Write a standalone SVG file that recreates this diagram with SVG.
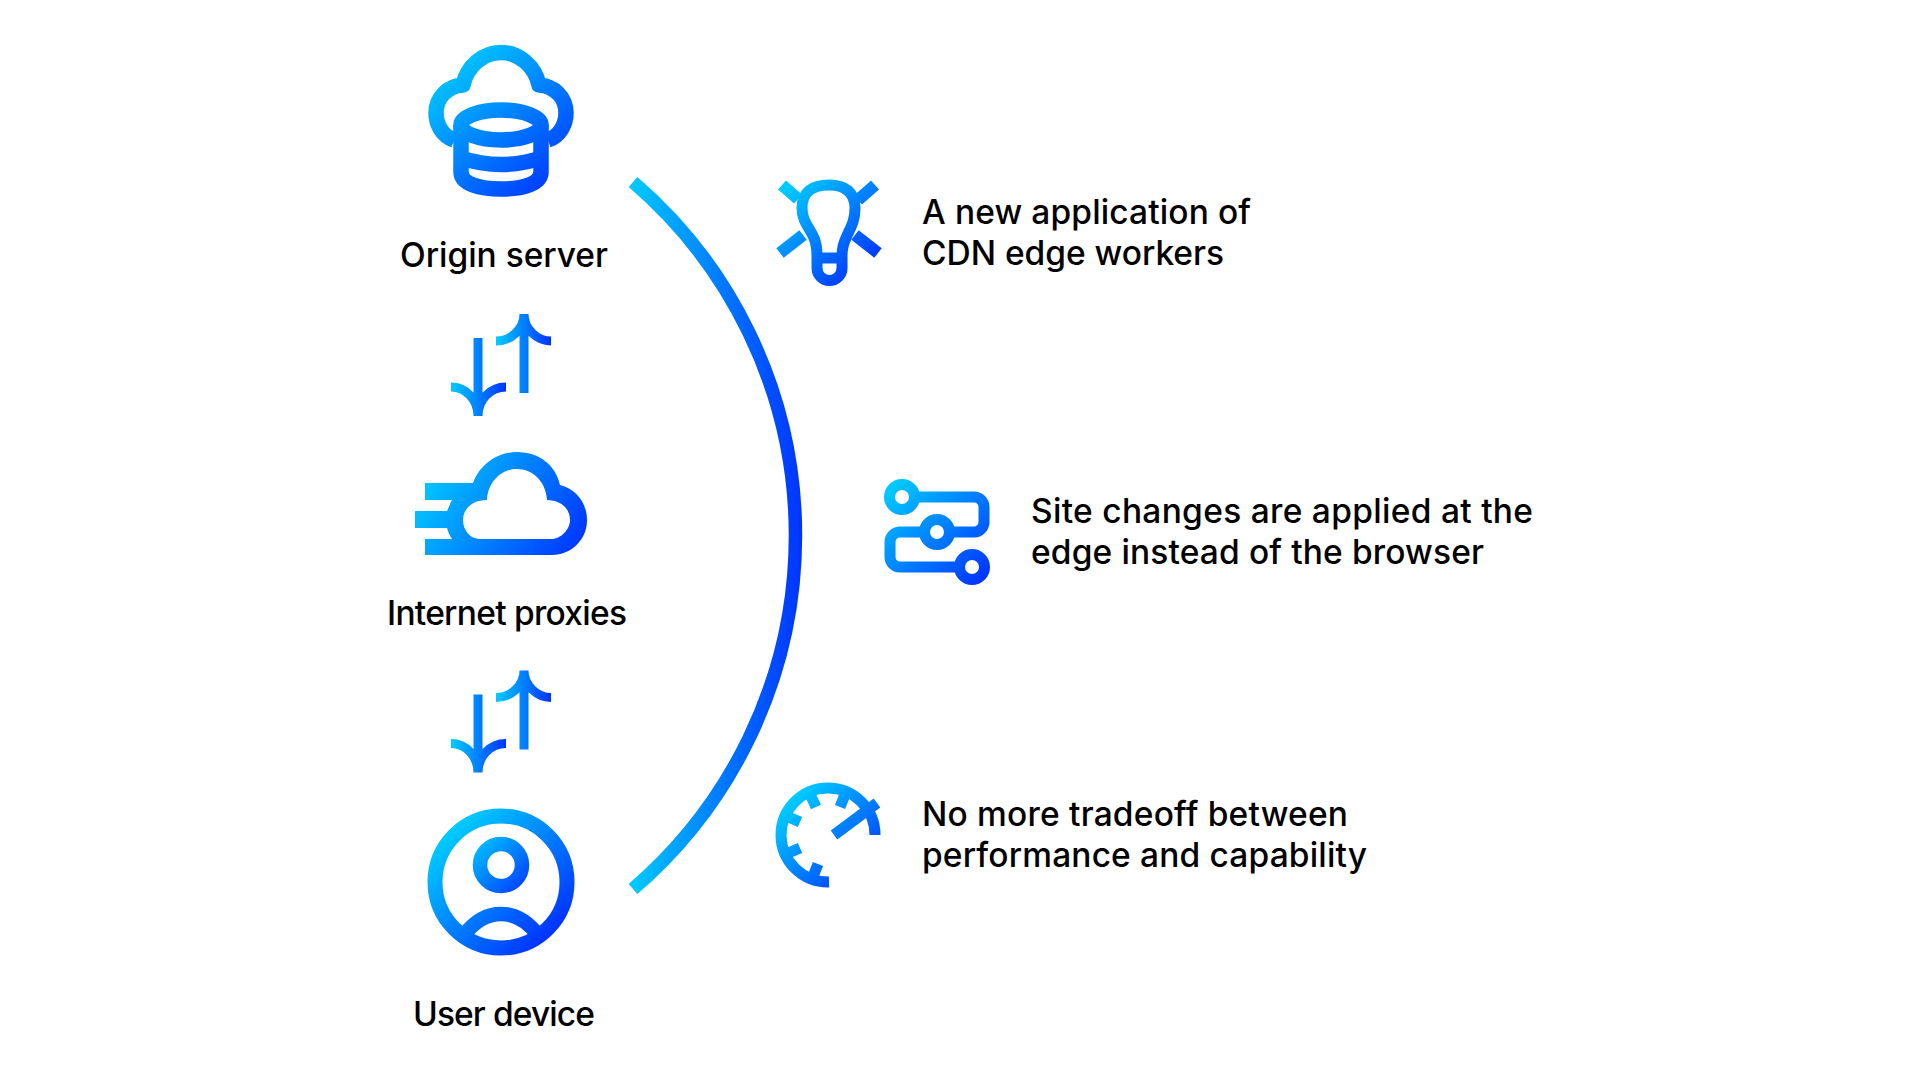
<svg xmlns="http://www.w3.org/2000/svg" width="1920" height="1081" viewBox="0 0 1920 1081">
<defs>
<linearGradient id="base"><stop offset="0" stop-color="#00ccff"/><stop offset="1" stop-color="#0033ff"/></linearGradient>
<linearGradient id="gOrigin" href="#base" gradientUnits="userSpaceOnUse" x1="445" y1="60" x2="560" y2="190"/>
<linearGradient id="gProxy" href="#base" gradientUnits="userSpaceOnUse" x1="425" y1="470" x2="575" y2="560"/>
<linearGradient id="gUser" href="#base" gradientUnits="userSpaceOnUse" x1="450" y1="830" x2="552" y2="934"/>
<linearGradient id="gHead" href="#base" gradientUnits="userSpaceOnUse" x1="473" y1="837" x2="529" y2="893"/>
<linearGradient id="gBulb" href="#base" gradientUnits="userSpaceOnUse" x1="790" y1="185" x2="870" y2="270"/>
<linearGradient id="gRoute" href="#base" gradientUnits="userSpaceOnUse" x1="890" y1="485" x2="985" y2="580"/>
<linearGradient id="gGauge" href="#base" gradientUnits="userSpaceOnUse" x1="790" y1="800" x2="870" y2="880"/>
<linearGradient id="gArcs" href="#base" gradientUnits="userSpaceOnUse" x1="629" y1="0" x2="802" y2="0"/>
<linearGradient id="gDown" href="#base" gradientUnits="userSpaceOnUse" x1="451" y1="0" x2="506" y2="0"/>
<linearGradient id="gUp" href="#base" gradientUnits="userSpaceOnUse" x1="496" y1="0" x2="551" y2="0"/>
<g id="arrows" fill="none" stroke-width="9">
<path stroke="url(#gDown)" d="M478 338V416M451 387C466 387 478 400 478 416M506 387C490 387 478 400 478 416"/>
<path stroke="url(#gUp)" d="M524 393V314M496 341C511 341 524 329 524 314M551 341C537 341 524 329 524 314"/>
</g>
</defs>
<style>
.t{font-family:"Inter","Liberation Sans",sans-serif;font-size:33.5px;font-weight:450;fill:#000}
.s{fill:none;stroke-linejoin:round}
</style>
<rect width="1920" height="1081" fill="#fff"/>
<g id="connectors">
<path fill="none" stroke="url(#gArcs)" stroke-width="13.5" d="M633 182A465.8 465.8 0 0 1 633 889"/>
<use href="#arrows"/>
<use href="#arrows" y="356.5"/>
</g>
<g id="origin-server">
<g class="s" stroke="url(#gOrigin)" stroke-width="15.500">
<path d="M454 140C442 136 436 124 436 113C436 97 448 86 463 85C467 66 483 52.500 501 52.500C519 52.500 535 66 539 85C554 86 566 97 566 113C566 124 560 136 548 140"/>
<ellipse cx="501" cy="125" rx="40" ry="15"/>
<path d="M461 125V172C461 184 480 189 501 189C522 189 541 184 541 172V125"/>
<path d="M461 158Q501 171 541 158"/>
</g>
<text class="t" x="400" y="267" textLength="208">Origin server</text>
</g>
<g id="internet-proxies">
<path fill="url(#gProxy)" fill-rule="evenodd" d="M425 483H473C480 464 498 452 517 452C540 452 556 466 560 485C576 489 587 503 587 520C587 540 571 555 552 555H425V539H452C449 535 448 531 447 528H415V511H447C449 507 450 503 452 500H425ZM487 500C488 482 501 469 517 469C533 469 546 482 547 500C560 500 570 508 570 520C570 530 560 539 552 539H480C470 539 463 530 463 520C463 509 472 500 487 500Z"/>
<text class="t" x="387" y="624.500" textLength="240">Internet proxies</text>
</g>
<g id="user-device">
<g class="s">
<circle cx="501" cy="882" r="66" stroke="url(#gUser)" stroke-width="15"/>
<circle cx="501" cy="865" r="21" stroke="url(#gHead)" stroke-width="14.500"/>
<path stroke="url(#gUser)" stroke-width="14.500" d="M464 935C474 922 487 914 501 914C515 914 528 922 538 935"/>
</g>
<text class="t" x="413" y="1026" textLength="182">User device</text>
</g>
<g id="edge-workers">
<g class="s" stroke="url(#gBulb)" stroke-width="11">
<path d="M829 185C812 185 802 192 802 208C802 222 810 228 814 238C817 245 817 250 817 256V268A12.500 12.500 0 0 0 842 268V256C842 250 843 244 846 238C850 228 855 222 855 208C855 192 845 185 829 185Z"/>
<path d="M817 258H842"/>
<path stroke-width="12" d="M782 185L798 199M875 185L858 200M780 253L803 235M878 253L855 235"/>
</g>
<text class="t" x="922" y="224" textLength="329">A new application of</text>
<text class="t" x="922" y="265" textLength="302">CDN edge workers</text>
</g>
<g id="site-changes">
<g class="s" stroke="url(#gRoute)" stroke-width="11">
<circle cx="902" cy="497" r="12.500"/><circle cx="937" cy="532" r="12.500"/><circle cx="972" cy="567" r="12.500"/>
<path d="M915 497H974A10 10 0 0 1 984 507V522A10 10 0 0 1 974 532H950M925 532H900A10 10 0 0 0 890 542V557A10 10 0 0 0 900 567H960"/>
</g>
<text class="t" x="1031" y="523" textLength="502">Site changes are applied at the</text>
<text class="t" x="1031" y="564" textLength="453">edge instead of the browser</text>
</g>
<g id="performance">
<g fill="none" stroke="url(#gGauge)" stroke-width="11">
<path d="M829 882A47 47 0 1 1 875 835"/>
<path d="M816 807L809 792M840 807L846 792M800 822L786 816M800 848L786 854M818 864L812 879M834 835L877 803"/>
</g>
<text class="t" x="922" y="826" textLength="426">No more tradeoff between</text>
<text class="t" x="922" y="867" textLength="445">performance and capability</text>
</g>
</svg>
